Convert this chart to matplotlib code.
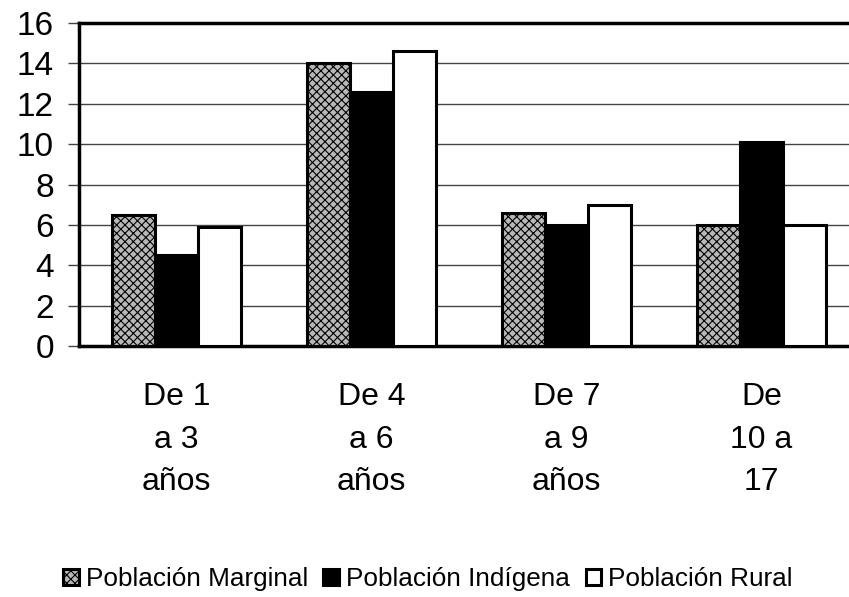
import matplotlib.pyplot as plt
import numpy as np

plt.rcParams['font.family'] = ['Liberation Sans', 'DejaVu Sans']
plt.rcParams['hatch.linewidth'] = 0.8

# datos
grupos = ['De 1\na 3\naños', 'De 4\na 6\naños', 'De 7\na 9\naños', 'De\n10 a\n17']
marginal = [6.5, 14.0, 6.6, 6.0]
indigena = [4.5, 12.6, 6.0, 10.1]
rural = [5.9, 14.6, 7.0, 6.0]
series = ['Población Marginal', 'Población Indígena', 'Población Rural']
yticks = [0, 2, 4, 6, 8, 10, 12, 14, 16]

fig = plt.figure(figsize=(8.49, 5.97), dpi=100)
ax = fig.add_axes([0.093, 0.4204, 0.9187, 0.5411])

x = np.arange(len(grupos))
w = 0.222
estilos = [dict(facecolor='#b8b8b8', hatch='xxxx'),
           dict(facecolor='black'),
           dict(facecolor='white')]
for k, vals in enumerate([marginal, indigena, rural]):
    ax.bar(x + (k - 1) * w, vals, w, edgecolor='black', linewidth=2.2,
           label=series[k], zorder=3, **estilos[k])

ax.set_xlim(-0.5, len(grupos) - 0.5)
ax.set_ylim(0, 16)
ax.set_yticks(yticks)
ax.set_yticklabels([str(v) for v in yticks], fontsize=24)
ax.set_xticks(x)
ax.set_xticklabels(grupos, fontsize=23, linespacing=1.55)
ax.tick_params(axis='x', length=0, pad=26)
ax.tick_params(axis='y', length=8, width=1, color='#444444', pad=10)
ax.yaxis.grid(True, color='#444444', linewidth=1, zorder=0)
for s in ax.spines.values():
    s.set_linewidth(2.5)
    s.set_color('black')

fig.legend(loc='center', bbox_to_anchor=(0.504, 0.03), ncol=3, frameon=False,
           fontsize=18.8, handlelength=0.6, handleheight=0.6,
           handletextpad=0.27, columnspacing=0.6, borderaxespad=0)

fig.savefig('out.png', dpi=100)
